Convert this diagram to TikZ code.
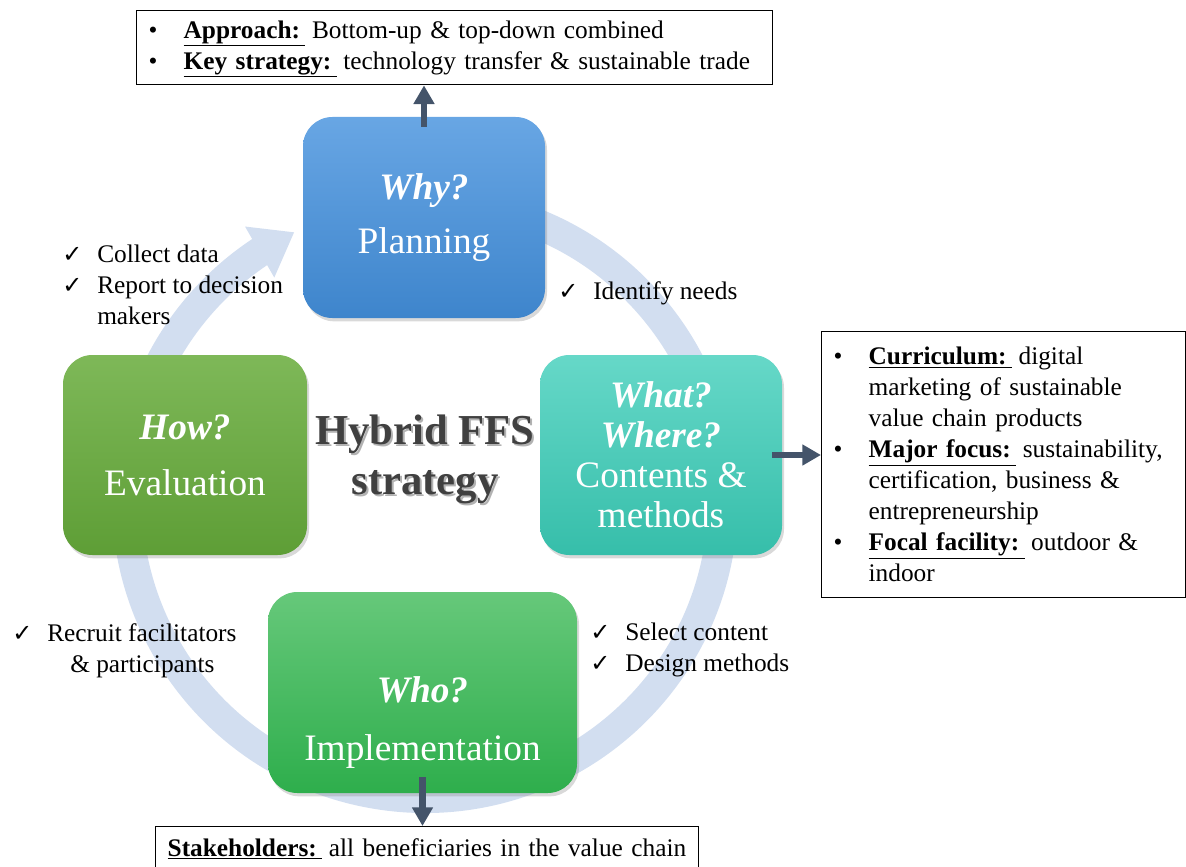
\documentclass[tikz,border=0pt]{standalone}
\usepackage{fontspec}
\setmainfont{Liberation Serif}
\newfontfamily\symfont{DejaVu Sans}
\usetikzlibrary{arrows.meta,bending,shadows}

\definecolor{ringblue}{RGB}{210,222,240}
\definecolor{arrowgray}{RGB}{68,84,106}
\definecolor{hubgray}{RGB}{64,64,64}
\definecolor{planA}{RGB}{104,166,228}
\definecolor{planB}{RGB}{62,133,204}
\definecolor{whatA}{RGB}{102,216,200}
\definecolor{whatB}{RGB}{54,190,170}
\definecolor{howA}{RGB}{126,184,88}
\definecolor{howB}{RGB}{94,158,54}
\definecolor{whoA}{RGB}{102,200,122}
\definecolor{whoB}{RGB}{46,174,76}

\newcommand\tick{\makebox[26.25pt][l]{\fontsize{18}{18}\symfont ✓}}
\newcommand\itm{\makebox[26.25pt][l]{\textbullet}}
\newcommand\key[1]{\raisebox{0pt}[\height][0pt]{\underline{\textbf{#1}\hspace{4pt}}}\hspace{5pt}}

\begin{document}
\begin{tikzpicture}[x=0.75pt,y=0.75pt,
    phasetext/.style={text=white, align=center, font=\fontsize{28}{30}\selectfont},
    phase/.style={phasetext, rounded corners=22pt,
      drop shadow={shadow xshift=1.5pt, shadow yshift=-2.5pt, opacity=0.3}},
    note/.style={font=\fontsize{19}{23.25}\selectfont, align=left, inner sep=0pt},
    infobox/.style={draw, line width=1pt, font=\fontsize{19}{23.25}\selectfont,
      align=left, inner xsep=9pt, inner ysep=5pt},
    link/.style={draw=arrowgray, line width=5pt, -{Triangle[width=15pt,length=14pt]}},
    hubtext/.style={font=\bfseries\fontsize{32}{37.5}\selectfont, align=center}]
  \useasboundingbox (0,0) rectangle (1186,-867);
  % cycle ring behind the four phases
  \draw[line width=22.5pt, draw=ringblue, -{Triangle[width=42pt,length=30pt]}]
    (425,-500) ++(80:223.5pt) arc[start angle=80, end angle=-244, radius=223.5pt];
  % four phases
  \node[phase, top color=planA, bottom color=planB, minimum width=181.5pt,
    minimum height=150.75pt] (plan) at (424,-217.5)
    {\textbf{\textit{Why?}}\\[11pt]Planning};
  \node[phase, top color=whatA, bottom color=whatB, minimum width=181.5pt,
    minimum height=150pt] (content) at (661,-455)
    {\textbf{\textit{What?}}\\\textbf{\textit{Where?}}\\Contents \&\\methods};
  \node[phase, top color=whoA, bottom color=whoB, minimum width=231.75pt,
    minimum height=150.75pt,
    label={[phasetext, yshift=-22.5pt]center:{\textbf{\textit{Who?}}\\[13pt]Implementation}}]
    (impl) at (422.5,-692.5) {};
  \node[phase, top color=howA, bottom color=howB, minimum width=183pt,
    minimum height=150pt] (eval) at (185,-455)
    {\textbf{\textit{How?}}\\[12pt]Evaluation};
  % centre title with its shadow
  \node[hubtext, text=black!30] (hubshade) at (427,-461) {Hybrid FFS\\strategy};
  \node[hubtext, text=hubgray] (hub) at (425,-459) {Hybrid FFS\\strategy};
  % tasks between the phases
  \node[note, anchor=north west] (collect) at (62,-245)
    {\tick Collect data\\\tick Report to decision\\\hspace*{26.25pt}makers};
  \node[note, anchor=north west] (needs) at (558,-281) {\tick Identify needs};
  \node[note, anchor=north west] (select) at (590,-623)
    {\tick Select content\\\tick Design methods};
  \node[note, anchor=north west] (recruit) at (12,-623)
    {\tick Recruit facilitators\\\hspace*{43.5pt}\& participants};
  % outcome boxes
  \node[infobox, anchor=north west, text width=459pt, inner ysep=7.5pt]
    (approach) at (136,-10)
    {\itm\key{Approach:}Bottom-up \& top-down combined\\
     \itm\key{Key strategy:}technology transfer \& sustainable trade};
  \node[infobox, anchor=north west, text width=255pt, minimum height=199.5pt]
    (curriculum) at (821,-331)
    {\itm\key{Curriculum:}digital\\
     \hspace*{26.25pt}marketing of sustainable\\
     \hspace*{26.25pt}value chain products\\
     \itm\key{Major focus:}sustainability,\\
     \hspace*{26.25pt}certification, business \&\\
     \hspace*{26.25pt}entrepreneurship\\
     \itm\key{Focal facility:}outdoor \&\\
     \hspace*{26.25pt}indoor};
  \node[infobox, anchor=north west, text width=389.25pt, inner ysep=9pt]
    (stakeholders) at (155,-826)
    {\key{Stakeholders:}all beneficiaries in the value chain};
  % arrows out of the phases
  \draw[link] ([yshift=-7.5pt]plan.north) -- (plan.north |- approach.south);
  \draw[link] ([xshift=-7.5pt]content.east) -- (content.east -| curriculum.west);
  \draw[link] ([yshift=12pt]impl.south) -- (impl.south |- stakeholders.north);
\end{tikzpicture}
\end{document}
